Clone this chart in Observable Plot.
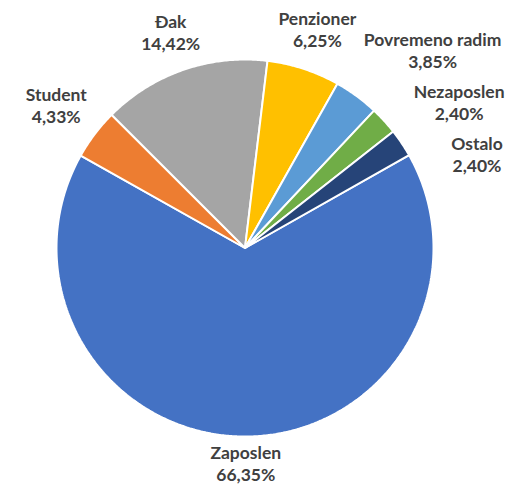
<!DOCTYPE html>
<html><head><meta charset="utf-8">
<script src="https://cdn.jsdelivr.net/npm/d3@7"></script>
<script src="https://cdn.jsdelivr.net/npm/@observablehq/plot@0.6"></script>
<style>html,body{margin:0;padding:0;background:#fff;} #chart{width:507px;height:485px;}</style>
</head><body><div id="chart"></div>
<script>
// ---- data ----
const categories = ["Zaposlen", "Student", "Đak", "Penzioner", "Povremeno radim", "Nezaposlen", "Ostalo"];
const shares = [66.35, 4.33, 14.42, 6.25, 3.85, 2.40, 2.40];
const colors = ["#4472C4", "#ED7D31", "#A5A5A5", "#FFC000", "#5B9BD5", "#70AD47", "#264478"];
const percentLabels = shares.map(v => v.toFixed(2).replace(".", ",") + "%");

// ---- layout ----
const W = 507, H = 485, CX = 245, CY = 248, R = 188.5;
const FONT = "Lato", FONT_SIZE = 17.5, LINE_H = 1.26;
const START_DEG = 60.5;

const rows = categories.map((c, i) => ({category: c, share: shares[i], pct: percentLabels[i]}));
const arcs = d3.pie().sort(null).value(d => d.share)
  .startAngle(START_DEG * Math.PI / 180)
  .endAngle((START_DEG + 360) * Math.PI / 180)(rows);

// wedge outlines (arc edge vs. center) for Plot.area
const wedge = [];
for (const a of arcs) {
  const n = Math.max(2, Math.ceil((a.endAngle - a.startAngle) / (Math.PI / 360)));
  for (let k = 0; k <= n; k++) {
    const t = a.startAngle + (a.endAngle - a.startAngle) * k / n;
    wedge.push({category: a.data.category, x1: Math.sin(t), y1: Math.cos(t), x2: 0, y2: 0});
  }
}

// label placement: outside end at mid-angle, pushed apart (round and out) on collision,
// kept inside the chart area
const ctx = document.createElement("canvas").getContext("2d");
ctx.font = `bold ${FONT_SIZE}px ${FONT}`;
const GAP = 14, PAD = 7, GAP_STEP = 0.75, ANG_STEP = Math.PI / 360, EDGE = 3;
const VIS_H = 17.5;                        // half visual height of a two-line label
const BOX_H = FONT_SIZE * LINE_H;          // half em-box height of a two-line label
const EDGE_H = (VIS_H + BOX_H) / 2;
const TWO_PI = Math.PI * 2;
const labels = arcs.map(a => {
  const lines = [a.data.category, a.data.pct];
  return {
    category: a.data.category,
    text: lines.join("\n"),
    angle: ((a.startAngle + a.endAngle) / 2) % TWO_PI,
    gap: GAP,
    w: Math.max(...lines.map(s => ctx.measureText(s).width)) / 2
  };
});
function place(l) {
  const s = Math.sin(l.angle), c = Math.cos(l.angle);
  const d = R + l.gap + Math.abs(s) * l.w + Math.abs(c) * VIS_H;
  l.px = Math.max(EDGE - CX + l.w, Math.min(W - EDGE - CX - l.w, s * d));
  l.py = Math.max(EDGE - CY + EDGE_H, Math.min(H - EDGE - CY - EDGE_H, -c * d));
}
function overlap(a, b) {
  return Math.abs(a.px - b.px) < a.w + b.w + PAD && Math.abs(a.py - b.py) < 2 * BOX_H + PAD;
}
const right = labels.filter(l => l.angle <= Math.PI).sort((a, b) => a.angle - b.angle);
const left = labels.filter(l => l.angle > Math.PI).sort((a, b) => b.angle - a.angle);
for (const [side, dir] of [[right, 1], [left, -1]]) {
  const placed = [];
  for (const l of side) {
    place(l);
    let guard = 0;
    while (placed.some(p => overlap(p, l)) && guard++ < 400) {
      l.angle += dir * ANG_STEP;
      l.gap += GAP_STEP;
      place(l);
    }
    placed.push(l);
  }
}
for (const l of labels) { l.x = l.px / R; l.y = -l.py / R; }

const chart = Plot.plot({
  width: W,
  height: H,
  margin: 0,
  style: {background: "#fff"},
  x: {domain: [-1, 1], range: [CX - R, CX + R], axis: null},
  y: {domain: [-1, 1], range: [CY + R, CY - R], axis: null},
  color: {domain: categories, range: colors},
  marks: [
    Plot.area(wedge, {x1: "x1", y1: "y1", x2: "x2", y2: "y2", z: "category", fill: "category",
      stroke: "#ffffff", strokeWidth: 2, strokeLinejoin: "miter"}),
    Plot.text(labels, {x: "x", y: "y", text: "text", lineAnchor: "middle", lineHeight: LINE_H,
      fontFamily: FONT, fontWeight: "bold", fontSize: FONT_SIZE, fill: "#404040"})
  ]
});
document.getElementById("chart").append(chart);
</script>
</body></html>
